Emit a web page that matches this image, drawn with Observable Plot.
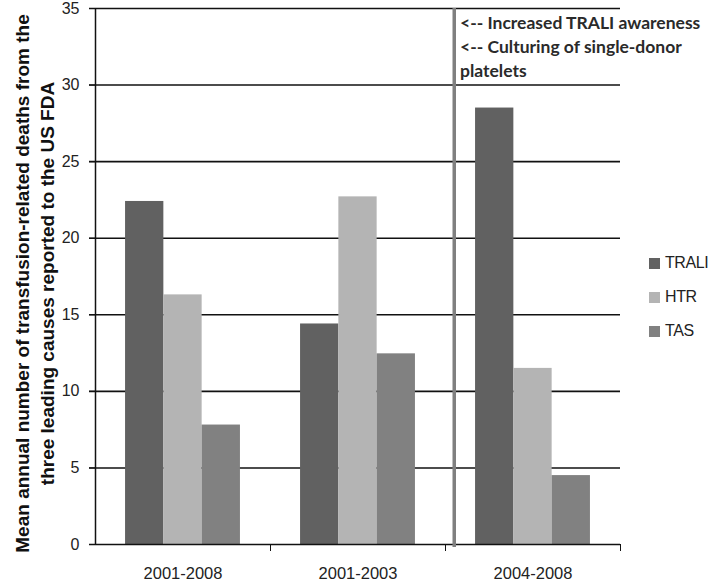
<!DOCTYPE html>
<html>
<head>
<meta charset="utf-8">
<script src="https://cdn.jsdelivr.net/npm/d3@7"></script>
<script src="https://cdn.jsdelivr.net/npm/@observablehq/plot@0.6"></script>
<style>
  html, body { margin: 0; padding: 0; background: #fff; }
  #wrap { position: relative; width: 708px; height: 583px; }
  #legend { position: absolute; left: 649px; top: 246px; font-family: "Liberation Sans", Arial, sans-serif; font-size: 16px; letter-spacing: -0.4px; color: #222; white-space: nowrap; }
  #legend .row { display: flex; align-items: center; height: 34px; }
  #legend .sw { width: 11px; height: 11px; margin-right: 5px; flex: none; }
</style>
</head>
<body>
<div id="wrap"></div>
<script>
const groups = ["2001-2008", "2001-2003", "2004-2008"];
const series = ["TRALI", "HTR", "TAS"];
const traliValues = [22.4, 14.4, 28.5];
const htrValues = [16.3, 22.7, 11.5];
const tasValues = [7.8, 12.45, 4.5];
const seriesColors = ["#616161", "#b4b4b4", "#818181"];
const yTicks = [0, 5, 10, 15, 20, 25, 30, 35];
const yTitle = "Mean annual number of transfusion-related deaths from the\nthree leading causes reported to the US FDA";
const annotation = "<-- Increased TRALI awareness\n<-- Culturing of single-donor\nplatelets";
const periodBreak = 2.05; // between 2001-2003 and 2004-2008 groups

const valuesBySeries = [traliValues, htrValues, tasValues];
const inner = d3.scaleBand().domain(series).range([0, 1]).paddingInner(0).paddingOuter(0.785);
const data = [];
groups.forEach((g, gi) => {
  series.forEach((s, si) => {
    const x1 = gi + inner(s);
    data.push({group: g, series: s, value: valuesBySeries[si][gi], x1, x2: x1 + inner.bandwidth()});
  });
});

const font = '"Liberation Sans", Arial, sans-serif';

const chart = Plot.plot({
  width: 708,
  height: 583,
  marginLeft: 95,
  marginRight: 88,
  marginTop: 8,
  marginBottom: 39,
  style: {fontFamily: font, fontSize: "16px", color: "#222", background: "#fff", overflow: "visible"},
  x: {domain: [0, 3], axis: null},
  y: {domain: [0, 35], axis: null},
  color: {domain: series, range: seriesColors},
  marks: [
    Plot.ruleY(yTicks.filter(d => d > 0), {stroke: "#111", strokeWidth: 1.6, insetLeft: -6}),
    Plot.rectY(data, {x1: "x1", x2: "x2", y: "value", fill: "series"}),
    Plot.ruleY([0], {stroke: "#111", strokeWidth: 1.5, insetLeft: -6}),
    Plot.ruleX([0], {stroke: "#111", strokeWidth: 1.5}),
    Plot.axisY({ticks: yTicks, tickSize: 6, tickPadding: 10, fontSize: 16, stroke: "#111", fill: "#222", label: null}),
    Plot.axisX({ticks: [1, 2, 3], tickSize: 7, tickFormat: () => "", stroke: "#111", label: null}),
    Plot.axisX({ticks: [0.5, 1.5, 2.5], tickSize: 0, tickPadding: 23, tickFormat: d => groups[Math.floor(d)], fontSize: 16.5, fill: "#222", label: null}),
    Plot.ruleX([periodBreak], {stroke: "#808080", strokeWidth: 3.5, insetBottom: -3}),
    Plot.text([annotation], {x: periodBreak + 0.033, y: 35, textAnchor: "start", lineAnchor: "top", dy: 3, lineHeight: 1.38, fontSize: 17.5, fontFamily: "Lato", fontWeight: "bold", fill: "#2a2a2a"}),
    Plot.text([yTitle], {frameAnchor: "left", rotate: -90, dx: -62, dy: 7, lineAnchor: "middle", textAnchor: "middle", fontSize: 19, fontWeight: "bold", lineHeight: 1.3, fill: "#111", fontFamily: font})
  ]
});

const wrap = document.getElementById("wrap");
wrap.appendChild(chart);
const legend = document.createElement("div");
legend.id = "legend";
series.forEach((s, i) => {
  const row = document.createElement("div");
  row.className = "row";
  const sw = document.createElement("div");
  sw.className = "sw";
  sw.style.background = seriesColors[i];
  const t = document.createElement("span");
  t.textContent = s;
  row.appendChild(sw);
  row.appendChild(t);
  legend.appendChild(row);
});
wrap.appendChild(legend);
</script>
</body>
</html>
